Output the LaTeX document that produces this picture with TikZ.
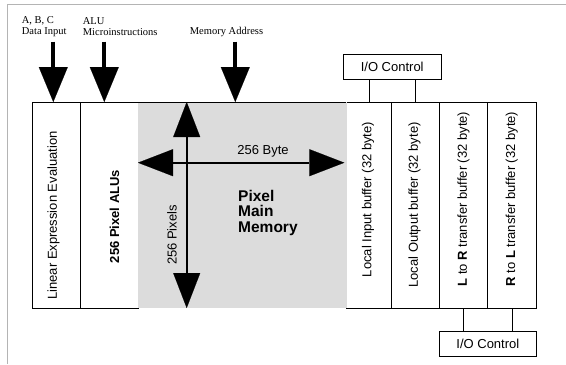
\documentclass[tikz,border=0pt]{standalone}
\usepackage{fontspec}
\setmainfont{Liberation Serif}
\newfontfamily\arialf{Liberation Sans}
\usetikzlibrary{arrows.meta}
\definecolor{memgray}{HTML}{DCDCDC}
\definecolor{framegray}{HTML}{B4B4B4}
\tikzset{
  colbox/.style={draw=black, line width=0.8bp, minimum height=206bp, inner sep=0pt, outer sep=0pt},
  membox/.style={fill=memgray, draw=none, minimum height=206bp, inner sep=0pt, outer sep=0pt},
  iobox/.style={draw=black, line width=0.8bp, minimum width=97.7bp, minimum height=25bp, inner sep=0pt,
    font=\arialf\fontsize{13bp}{15bp}\selectfont},
  vlabel/.style={rotate=90, inner sep=0pt, font=\arialf\fontsize{13bp}{15bp}\selectfont},
  vblabel/.style={rotate=90, inner sep=0pt, font=\arialf\bfseries\fontsize{13bp}{15bp}\selectfont},
  toplabel/.style={inner sep=0pt, align=left, font=\fontsize{10.5bp}{11bp}\selectfont},
  biglabel/.style={inner sep=0pt, align=left, font=\arialf\bfseries\fontsize{15.5bp}{15.5bp}\selectfont},
  hlabel/.style={inner sep=0pt, font=\arialf\fontsize{13bp}{15bp}\selectfont},
  bigarrow/.style={line width=4.3bp, -{Triangle[length=35bp, width=29bp, line width=0.1bp]}},
  memarrow/.style={line width=1.8bp, {Triangle[length=35bp, width=27bp, line width=0.1bp]}-{Triangle[length=35bp, width=27bp, line width=0.1bp]}},
  wire/.style={draw=black, line width=0.8bp},
}
\begin{document}
\begin{tikzpicture}[x=1bp, y=-1bp]
\useasboundingbox (0,0) rectangle (566,364);
% outer frame
\draw[framegray, line width=1.3bp] (7.7,364) -- (7.7,4.7) -- (566,4.7);

% columns
\node[colbox, minimum width=48bp] (lin) at (56,205) {};
\node[colbox, minimum width=58bp] (alu) at (109,205) {};
\node[colbox, minimum width=45.3bp] (in) at (369.05,205) {};
\node[colbox, minimum width=48bp] (out) at (415.7,205) {};
\node[colbox, minimum width=48bp] (lr) at (463.7,205) {};
\node[colbox, minimum width=49bp] (rl) at (512.2,205) {};
\node[membox, minimum width=208.4bp] (mem) at (242.6,205) {};
\draw[wire] (alu.north east) -- (in.north west);

% column texts
\node[vlabel] at (53.5,215.5) {Linear Expression Evaluation};
\node[vblabel] at (114.5,216.5) {256 Pixel ALUs};
\node[vlabel] at (368,199.5) {Local Input buffer (32 byte)};
\node[vlabel] at (414.5,205) {Local Output buffer (32 byte)};
\node[vlabel] at (463.5,199) {{\bfseries L} to {\bfseries R} transfer buffer (32 byte)};
\node[vlabel] at (511.7,199) {{\bfseries R} to {\bfseries L} transfer buffer (32 byte)};

% memory contents
\coordinate (v) at (186.7,0);
\coordinate (h) at (0,162.7);
\coordinate (hr) at (344.3,162.7);
\draw[memarrow] (v |- mem.north) -- (v |- mem.south);
\draw[memarrow] (h -| alu.east) -- (hr);
\node[hlabel] at (263,151) {256 Byte};
\node[vlabel] at (172,235) {256 Pixels};
\node[biglabel, anchor=west] at (238,212.5) {Pixel\\Main\\Memory};

% top inputs
\node[toplabel, anchor=west] (abc) at (21.7,26.2) {A, B, C\\Data Input};
\node[toplabel, anchor=west] (alui) at (82.7,26.2) {ALU\\Microinstructions};
\node[toplabel] (maddr) at (226.5,31.7) {Memory Address};
\coordinate (a1) at (53.3,41.7);
\coordinate (a2) at (104.3,41.7);
\coordinate (a3) at (235.3,41.7);
\draw[bigarrow] (a1) -- (a1 |- lin.north);
\draw[bigarrow] (a2) -- (a2 |- alu.north);
\draw[bigarrow] (a3) -- (a3 |- mem.north);

% I/O control boxes
\node[iobox] (io1) at (392.2,66.4) {I/O Control};
\node[iobox] (io2) at (487.85,343.5) {I/O Control};
\draw[wire] (in.north) -- (in.north |- io1.south);
\draw[wire] (out.north) -- (out.north |- io1.south);
\draw[wire] (lr.south) -- (lr.south |- io2.north);
\draw[wire] (rl.south) -- (rl.south |- io2.north);
\end{tikzpicture}
\end{document}
